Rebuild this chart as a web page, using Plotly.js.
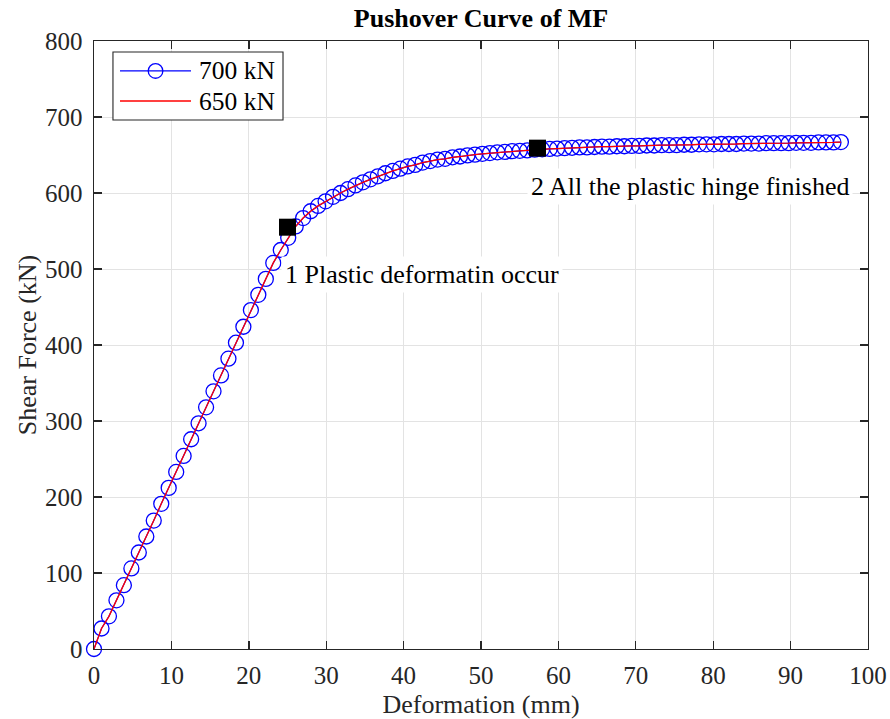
<!DOCTYPE html>
<html>
<head>
<meta charset="utf-8">
<script src="https://cdn.plot.ly/plotly-3.0.1.min.js"></script>
<style>
html,body{margin:0;padding:0;background:#fff;}
#chart{width:890px;height:719px;}
</style>
</head>
<body>
<div id="chart"></div>
<script>
// ---- data ----
const deformation = [0, 0.97, 1.93, 2.90, 3.86, 4.83, 5.79, 6.76, 7.72, 8.69, 9.65,
  10.62, 11.58, 12.55, 13.51, 14.48, 15.44, 16.41, 17.37, 18.34, 19.30,
  20.27, 21.23, 22.20, 23.16, 24.13, 25.09, 26.06, 27.02, 27.99, 28.95,
  29.92, 30.88, 31.85, 32.81, 33.78, 34.74, 35.71, 36.67, 37.64, 38.60,
  39.57, 40.53, 41.50, 42.46, 43.43, 44.39, 45.36, 46.32, 47.29, 48.25,
  49.22, 50.18, 51.15, 52.11, 53.08, 54.04, 55.01, 55.97, 56.94, 57.90,
  58.87, 59.83, 60.80, 61.76, 62.73, 63.69, 64.66, 65.62, 66.59, 67.55,
  68.52, 69.48, 70.45, 71.41, 72.38, 73.34, 74.31, 75.27, 76.24, 77.20,
  78.17, 79.13, 80.10, 81.06, 82.03, 82.99, 83.96, 84.92, 85.89, 86.85,
  87.82, 88.78, 89.75, 90.71, 91.68, 92.64, 93.61, 94.57, 95.54, 96.50];

const force700 = [0, 27, 43, 64, 84, 106, 127, 148, 169, 191, 212,
  233, 254, 276, 297, 318, 339, 360, 382, 403, 424,
  446, 466, 487, 508, 525, 541, 556, 567, 576, 583,
  589, 595, 600, 605, 610, 614, 618, 622, 626, 629,
  632, 635, 637, 640, 642, 644, 645, 647, 648, 649.5,
  650.5, 651.5, 652.5, 653.5, 654, 655, 655.5, 656, 657, 657.5,
  658, 658.5, 659, 659.5, 660, 660, 660.5, 661, 661, 661.5,
  661.5, 662, 662, 662.5, 662.5, 663, 663, 663, 663.5, 663.5,
  664, 664, 664, 664.5, 664.5, 664.5, 665, 665, 665, 665.5,
  665.5, 665.5, 665.5, 666, 666, 666, 666.5, 666.5, 666.5, 667];

const force650 = [0, 27, 43, 64, 84, 106, 127, 148, 169, 191, 212,
  233, 254, 276, 297, 318, 339, 360, 382, 403, 424,
  446, 466, 487, 508, 525, 541, 556, 567, 576, 583,
  589, 595, 600, 605, 610, 614, 618, 622, 626, 629,
  632, 635, 637, 640, 642, 644, 645, 647, 648, 649.5,
  650.5, 651.5, 652.5, 653.5, 654, 655, 655.5, 656, 657, 657.5,
  658, 658.5, 659, 659.5, 660, 660, 660.5, 661, 661, 661.5,
  661.5, 662, 662, 662.5, 662.5, 663, 663, 663, 663.5, 663.5,
  664, 664, 664, 664.5, 664.5, 664.5, 665, 665, 665, 665.5,
  665.5, 665.5, 665.5, 666, 666, 666, 666.5, 666.5, 666.5, 667];

const stageDeformation = [25.0, 57.3];
const stageForce = [555, 659];
const stageLabels = ['1 Plastic deformatin occur', '2 All the plastic hinge finished'];
const labelDeformation = [24.2, 55.95];
const labelForce = [493, 609];

const seriesNames = ['700 kN', '650 kN'];
const xTicks = [0, 10, 20, 30, 40, 50, 60, 70, 80, 90, 100];
const yTicks = [0, 100, 200, 300, 400, 500, 600, 700, 800];

// ---- styling ----
const FONT = '"Liberation Serif", "Times New Roman", Times, serif';
const AX = '#262626';
const GRID = '#e3e3e3';

const traces = [
  {
    x: deformation, y: force700, name: seriesNames[0],
    type: 'scatter', mode: 'lines+markers', cliponaxis: false,
    line: {color: '#0000ff', width: 1.2},
    marker: {symbol: 'circle-open', size: 15, color: '#0000ff', line: {width: 1.3, color: '#0000ff'}},
    showlegend: false
  },
  {
    x: deformation, y: force650, name: seriesNames[1],
    type: 'scatter', mode: 'lines', cliponaxis: false,
    line: {color: '#ff0000', width: 1.3},
    showlegend: false
  },
  {
    x: stageDeformation, y: stageForce, name: 'stages',
    type: 'scatter', mode: 'markers',
    marker: {symbol: 'square', size: 17, color: '#000000'},
    showlegend: false
  }
];

const axisCommon = {
  showline: true, linecolor: AX, linewidth: 1.4, mirror: 'ticks',
  ticks: 'inside', ticklen: 8, tickwidth: 1.4, tickcolor: AX,
  showgrid: true, gridcolor: GRID, gridwidth: 1,
  zeroline: false, tickfont: {family: FONT, size: 25, color: AX},
  automargin: false
};

// manual legend positions (paper coords)
const LX0 = 0.0245, LX1 = 0.2442, LY0 = 0.8701, LY1 = 0.9819;
const LL0 = 0.0336, LL1 = 0.1253, LM = 0.0795, LT = 0.1331;
const LR1 = 0.9507, LR2 = 0.9013;

const shapes = [
  {type: 'rect', xref: 'paper', yref: 'paper', x0: LX0, x1: LX1, y0: LY0, y1: LY1,
   fillcolor: '#ffffff', line: {color: AX, width: 1.1}, layer: 'above'},
  {type: 'line', xref: 'paper', yref: 'paper', x0: LL0, x1: LL1, y0: LR1, y1: LR1,
   line: {color: '#0000ff', width: 1.2}, layer: 'above'},
  {type: 'circle', xref: 'paper', yref: 'paper', xsizemode: 'pixel', ysizemode: 'pixel',
   xanchor: LM, yanchor: LR1, x0: -7.3, x1: 7.3, y0: -7.3, y1: 7.3,
   line: {color: '#0000ff', width: 1.3}, fillcolor: 'rgba(0,0,0,0)', layer: 'above'},
  {type: 'line', xref: 'paper', yref: 'paper', x0: LL0, x1: LL1, y0: LR2, y1: LR2,
   line: {color: '#ff0000', width: 1.3}, layer: 'above'}
];

const annotations = [
  {xref: 'paper', yref: 'paper', x: LT, y: LR1, text: seriesNames[0], showarrow: false,
   xanchor: 'left', yanchor: 'middle', font: {family: FONT, size: 25.5, color: '#000'}},
  {xref: 'paper', yref: 'paper', x: LT, y: LR2, text: seriesNames[1], showarrow: false,
   xanchor: 'left', yanchor: 'middle', font: {family: FONT, size: 25.5, color: '#000'}}
];
for (let i = 0; i < stageLabels.length; i++) {
  annotations.push({
    xref: 'x', yref: 'y', x: labelDeformation[i], y: labelForce[i], text: stageLabels[i],
    showarrow: false, xanchor: 'left', yanchor: 'middle',
    bgcolor: '#ffffff', borderpad: 3,
    font: {family: FONT, size: 26, color: '#000'}
  });
}

const layout = {
  width: 890, height: 719,
  margin: {l: 94, r: 22, t: 41, b: 70, pad: 0},
  paper_bgcolor: '#ffffff', plot_bgcolor: '#ffffff',
  showlegend: false,
  title: {
    text: 'Pushover Curve of MF', x: 0.5405, xanchor: 'center', xref: 'container',
    y: 0.975, yanchor: 'middle',
    font: {family: FONT, size: 26, color: '#000', weight: 'bold'}
  },
  xaxis: Object.assign({}, axisCommon, {
    range: [0, 100], tickvals: xTicks, ticktext: xTicks.map(String),
    ticklabelstandoff: 4,
    title: {text: 'Deformation (mm)', standoff: 12, font: {family: FONT, size: 26, color: AX}}
  }),
  yaxis: Object.assign({}, axisCommon, {
    range: [0, 800], tickvals: yTicks, ticktext: yTicks.map(String),
    ticklabelstandoff: 5,
    title: {text: 'Shear Force (kN)', standoff: 1, font: {family: FONT, size: 26, color: AX}}
  }),
  shapes: shapes,
  annotations: annotations,
  font: {family: FONT}
};

Plotly.newPlot('chart', traces, layout, {displayModeBar: false, staticPlot: true});
</script>
</body>
</html>
